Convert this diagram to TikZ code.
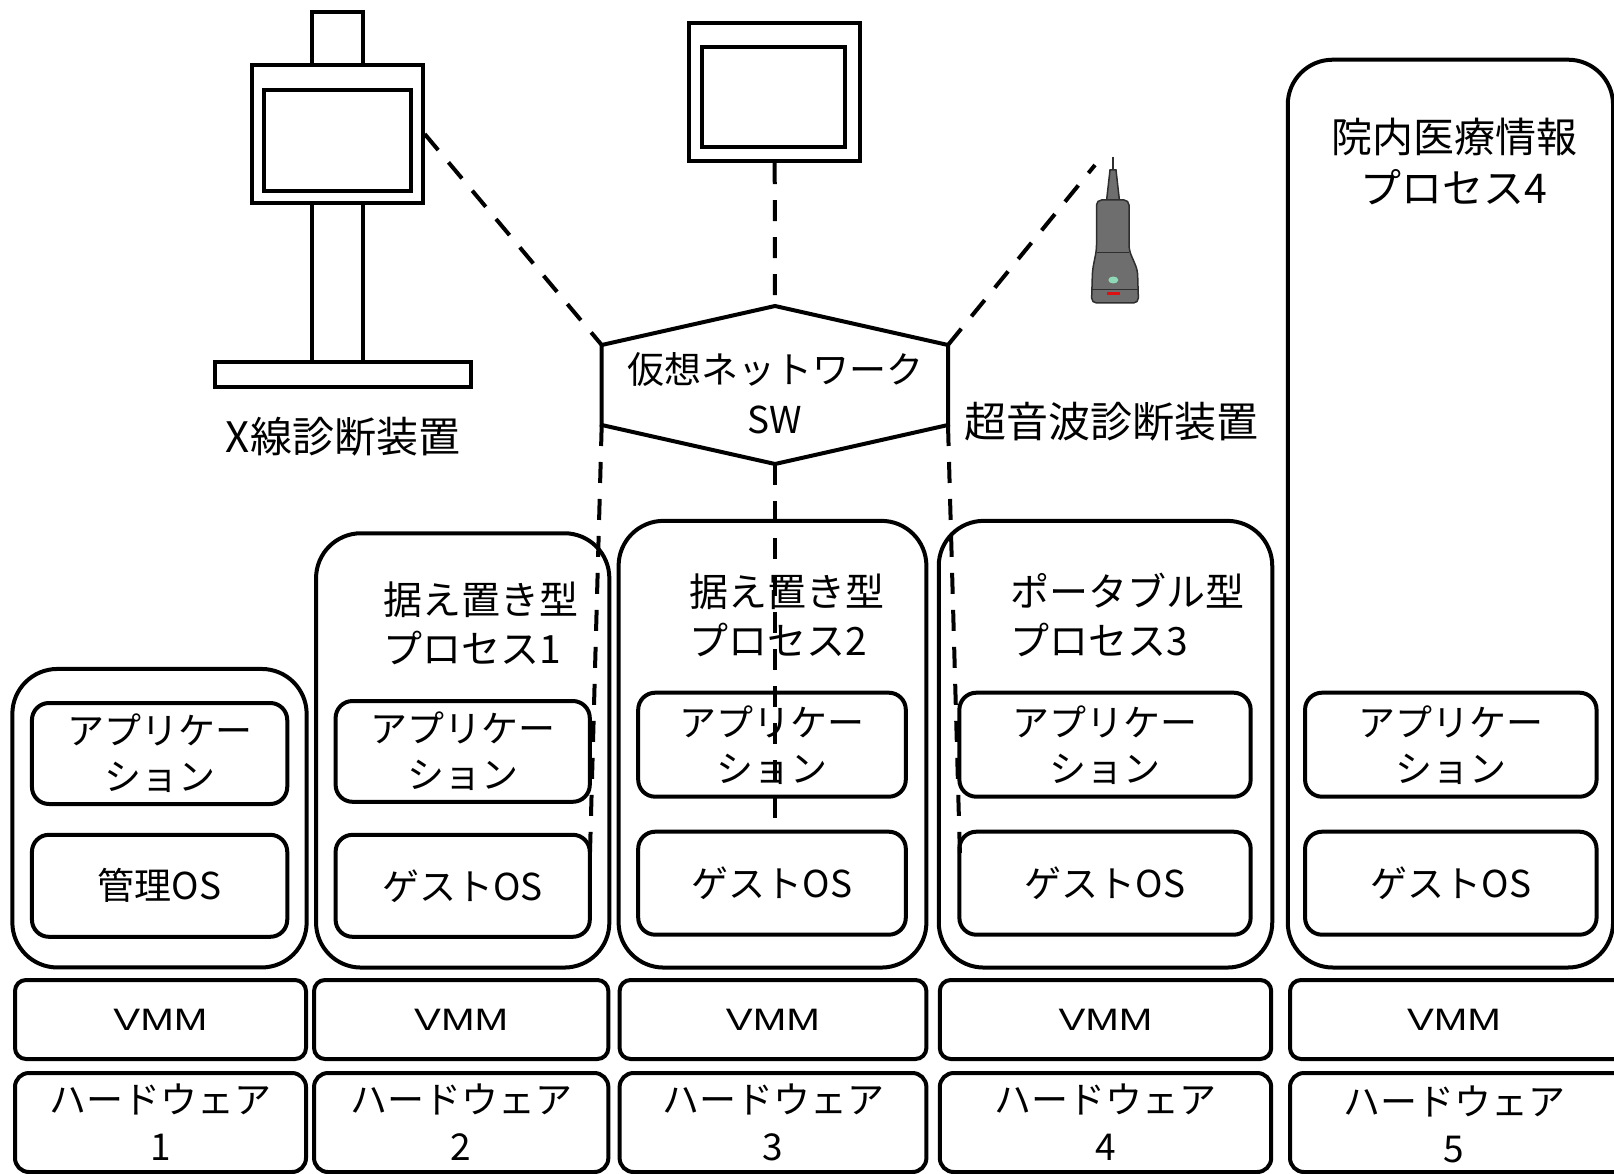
\documentclass[tikz,border=0pt]{standalone}
\usepackage{graphicx}
\usepackage{fontspec}
\setmainfont{Noto Sans CJK JP}
\newfontfamily\vmmfont{Liberation Sans}
\definecolor{probebody}{HTML}{6E6E6E}
\definecolor{probeedge}{HTML}{2E2E2E}
\definecolor{probegreen}{HTML}{8FD9B6}
\definecolor{probered}{HTML}{E01010}
\begin{document}
\begin{tikzpicture}[x=1pt,y=-1pt,line width=4pt,
  boxbase/.style={draw,inner sep=0pt,align=center},
  layerbox/.style={boxbase,rounded corners=45pt},
  appbox/.style={boxbase,rounded corners=17pt,font=\fontsize{37}{46}\selectfont},
  vmmbox/.style={boxbase,rounded corners=11pt,minimum height=79pt,font=\vmmfont\fontsize{31}{37}\selectfont},
  hwbox/.style={boxbase,rounded corners=14pt,minimum height=99pt,font=\fontsize{37}{47}\selectfont},
  proctitle/.style={inner sep=0pt,align=left,font=\fontsize{39}{49}\selectfont},
  devlabel/.style={inner sep=0pt,font=\fontsize{42}{50}\selectfont},
  devpart/.style={draw,inner sep=0pt},
  link/.style={dash pattern=on 21pt off 16pt}
]
\useasboundingbox (0,0) rectangle (1614,1174);
\path[clip] (0,0) rectangle (1614,1174);

% ---------- X-ray unit ----------
\draw (311.7,12) rectangle (363,65);
\node[devpart,minimum width=171pt,minimum height=138pt] (xmon) at (337.2,134) {};
\node[devpart,minimum width=146.7pt,minimum height=101pt] (xscreen) at (337.35,140.5) {};
\draw (311.7,203) rectangle (363,361.7);
\draw (215,361.7) rectangle (470.7,386.7);
\node[devlabel] (xlabel) at (343,437) {X線診断装置};

% ---------- monitor ----------
\node[devpart,minimum width=170.7pt,minimum height=138.3pt] (mon) at (774.7,91.9) {};
\node[devpart,minimum width=143.3pt,minimum height=100pt] (monscreen) at (773.4,97.3) {};

% ---------- ultrasound probe ----------
\begin{scope}[line width=1.5pt,draw=probeedge]
  \draw (1113,157) -- (1113,172);
  \draw[fill=probebody] (1110,170) -- (1116,170) -- (1119.5,201) -- (1106.5,201) -- cycle;
  \draw[fill=probebody,rounded corners=5pt]
    (1096.5,200) -- (1129,200) -- (1129,250) -- (1137.5,270) -- (1138.5,303)
    -- (1091.5,303) -- (1092.5,270) -- (1096.5,250) -- cycle;
  \draw[line width=0.8pt] (1097,252) -- (1128.5,252);
  \draw[line width=0.8pt] (1092,289) -- (1138,289);
  \fill[probegreen] (1113.3,280) ellipse (5pt and 3.5pt);
  \fill[probered] (1106.5,291.8) rectangle (1120,295.2);
\end{scope}
\coordinate (probe-end) at (1095,165);
\node[devlabel] (uslabel) at (1111.6,422) {超音波診断装置};

% ---------- virtual network switch ----------
\coordinate (sw-t)  at (775,306);
\coordinate (sw-rt) at (948,345);
\coordinate (sw-rb) at (948,425);
\coordinate (sw-b)  at (775,464);
\coordinate (sw-lb) at (601.7,425);
\coordinate (sw-lt) at (601.7,345);
\draw (sw-t) -- (sw-rt) -- (sw-rb) -- (sw-b) -- (sw-lb) -- (sw-lt) -- cycle;
\node[inner sep=0pt,align=center,font=\fontsize{37}{50}\selectfont] (sw) at (775,393) {仮想ネットワーク\\SW};

% ---------- column 1: management ----------
\node[layerbox,minimum width=294.3pt,minimum height=298.5pt] (p0) at (159.5,818.2) {};
\node[appbox,minimum width=255.3pt,minimum height=101pt] (app0) at (159.6,753.5) {アプリケー\\ション};
\node[appbox,minimum width=255.3pt,minimum height=102pt] (os0) at (159.6,885.8) {管理OS};

% ---------- column 2: process 1 ----------
\node[layerbox,minimum width=293.3pt,minimum height=434.3pt] (p1) at (462.7,750.4) {};
\node[proctitle,anchor=west] (t1) at (381,623.5) {据え置き型\\プロセス1};
\node[appbox,minimum width=254.2pt,minimum height=100.8pt] (app1) at (462.7,751.4) {アプリケー\\ション};
\node[appbox,minimum width=254.2pt,minimum height=102pt] (os1) at (462.7,885.8) {ゲストOS};

% ---------- column 3: process 2 ----------
\node[layerbox,minimum width=307.8pt,minimum height=446.7pt] (p2) at (772.5,744.2) {};
\node[proctitle,anchor=west] (t2) at (687.6,615) {据え置き型\\プロセス2};
\node[appbox,minimum width=267.6pt,minimum height=104pt] (app2) at (772,744.7) {アプリケー\\ション};
\node[appbox,minimum width=267.6pt,minimum height=103pt] (os2) at (772,883.2) {ゲストOS};

% ---------- column 4: process 3 ----------
\node[layerbox,minimum width=333.5pt,minimum height=446.7pt] (p3) at (1105.5,744.2) {};
\node[proctitle,anchor=west] (t3) at (1008.7,615) {ポータブル型\\プロセス3};
\node[appbox,minimum width=291.3pt,minimum height=104pt] (app3) at (1105,744.7) {アプリケー\\ション};
\node[appbox,minimum width=291.3pt,minimum height=103pt] (os3) at (1105,883.2) {ゲストOS};

% ---------- column 5: process 4 ----------
\node[layerbox,minimum width=325.3pt,minimum height=907.8pt] (p4) at (1450.4,513.6) {};
\node[proctitle,align=center,font=\fontsize{41}{51}\selectfont] (t4) at (1454,161.6) {院内医療情報\\プロセス4};
\node[appbox,minimum width=291.5pt,minimum height=104pt] (app4) at (1450.8,744.7) {アプリケー\\ション};
\node[appbox,minimum width=291.5pt,minimum height=103pt] (os4) at (1450.8,883.2) {ゲストOS};

% ---------- VMM layer ----------
\node[vmmbox,minimum width=291pt] (vmm1) at (160.5,1019.5) {\scalebox{1.3}[1]{VMM}};
\node[vmmbox,minimum width=294.3pt] (vmm2) at (461.2,1019.5) {\scalebox{1.3}[1]{VMM}};
\node[vmmbox,minimum width=306.8pt] (vmm3) at (773,1019.5) {\scalebox{1.3}[1]{VMM}};
\node[vmmbox,minimum width=331.4pt] (vmm4) at (1105.5,1019.5) {\scalebox{1.3}[1]{VMM}};
\node[vmmbox,minimum width=350pt] (vmm5) at (1465,1019.5) {};
\node[inner sep=0pt,font=\vmmfont\fontsize{31}{37}\selectfont] (vmm5text) at (1454,1019.5) {\scalebox{1.3}[1]{VMM}};

% ---------- hardware layer ----------
\node[hwbox,minimum width=291pt] (hw1) at (160.5,1122.5) {ハードウェア\\1};
\node[hwbox,minimum width=294.3pt] (hw2) at (461.2,1122.5) {ハードウェア\\2};
\node[hwbox,minimum width=306.8pt] (hw3) at (773,1122.5) {ハードウェア\\3};
\node[hwbox,minimum width=331.4pt] (hw4) at (1105.5,1122.5) {ハードウェア\\4};
\node[hwbox,minimum width=350pt] (hw5) at (1465,1122.5) {};
\node[inner sep=0pt,align=center,font=\fontsize{37}{47}\selectfont] (hw5text) at (1454,1124.5) {ハードウェア\\5};

% ---------- virtual network links ----------
\coordinate (d-left) at (590,852);
\coordinate (d-right) at (960,857);
\draw[link] (xmon.east) -- (sw-lt);
\draw[link] (mon.south) -- (sw-t);
\draw[link] (sw-rt) -- (probe-end);
\draw[link] (sw-lb) -- (d-left);
\draw[link] (sw-b) -- (sw-b |- os2.north);
\draw[link] (sw-rb) -- (d-right);
\end{tikzpicture}
\end{document}
